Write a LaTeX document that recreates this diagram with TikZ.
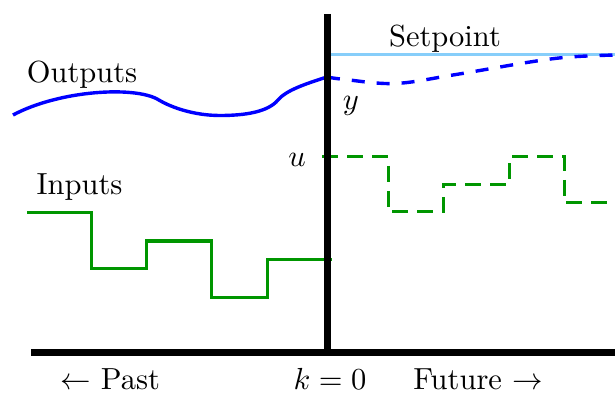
\documentclass[tikz,border=0pt]{standalone}
\definecolor{outblue}{RGB}{0,0,255}
\definecolor{ingreen}{RGB}{0,150,0}
\definecolor{setblue}{RGB}{135,206,250}
\newcommand{\bigtxt}[1]{\scalebox{3.05}{#1}}
\tikzset{
  lbl/.style={anchor=base, inner sep=0pt},
  axisline/.style={line width=7pt, black},
  outcurve/.style={line width=3.4pt, outblue},
  outdash/.style={outcurve, dash pattern=on 13pt off 12pt},
  incurve/.style={line width=3pt, ingreen},
  indash/.style={incurve, dash pattern=on 16pt off 9pt},
  setline/.style={line width=3pt, setblue}
}
\begin{document}
\begin{tikzpicture}[x=1pt,y=-1pt]
\useasboundingbox (0,0) rectangle (615,395);
% named coordinates
\coordinate (vtop) at (327,14);
\coordinate (origin) at (327,352);
\coordinate (haxL) at (31,352);
\coordinate (haxR) at (615,352);
\coordinate (spL) at (327,55);
\coordinate (spR) at (615,55);
% setpoint
\draw[setline] (spL) -- (spR);
% outputs (past)
\draw[outcurve] (13,115) .. controls (60,90) and (135,86) .. (158,99.5)
  .. controls (172,108) and (195,115.5) .. (220,115.5)
  .. controls (245,115.5) and (268,112) .. (278,100)
  .. controls (286,90.4) and (305,84) .. (327,77);
% outputs (future)
\draw[outdash] plot[smooth, tension=0.6] coordinates {(327,77) (345,79.5) (395,83.5) (453,75) (530,62) (570,57) (615,55)};
% inputs (past)
\draw[incurve] (27,213) -- (91,213) -- (91,268) -- (146,268) -- (146,241) -- (211,241) -- (211,297) -- (267,297) -- (267,259) -- (332,259);
% inputs (future)
\draw[indash] (322,157) -- (388,157) -- (388,212) -- (443,212) -- (443,185) -- (509,185) -- (509,157) -- (564,157) -- (564,203) -- (615,203);
% axes
\draw[axisline] (vtop) -- (origin);
\draw[axisline] (haxL) -- (haxR);
% labels
\node[lbl] (setpoint) at (445,46.5) {\bigtxt{Setpoint}};
\node[lbl] (outputs) at (82,83) {\bigtxt{Outputs}};
\node[lbl] (inputs) at (79.5,195) {\bigtxt{Inputs}};
\node[lbl] (ulab) at (297,167) {\bigtxt{$u$}};
\node[lbl] (ylab) at (351,110) {\bigtxt{$y$}};
\node[lbl] (past) at (110,389) {\bigtxt{$\leftarrow$ Past}};
\node[lbl] (knull) at (330,389) {\bigtxt{$k=0$}};
\node[lbl] (future) at (478,389) {\bigtxt{Future $\rightarrow$}};
\end{tikzpicture}
\end{document}
